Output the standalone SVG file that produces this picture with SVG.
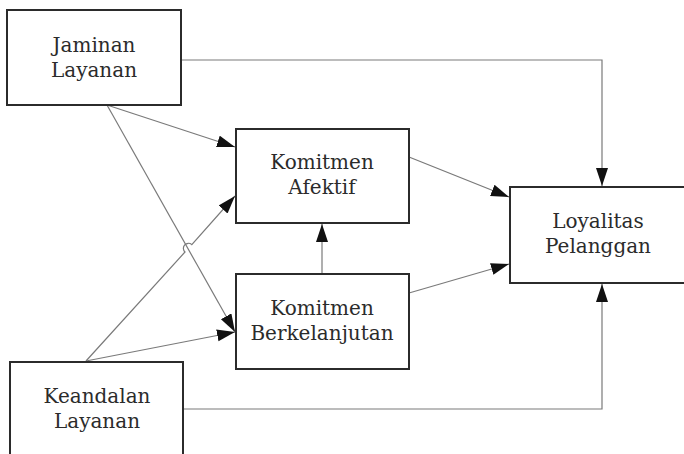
<svg xmlns="http://www.w3.org/2000/svg" width="684" height="454" viewBox="0 0 684 454">
  <style>
    .box { fill: #ffffff; stroke: #2b2b2b; stroke-width: 2; }
    .lbl { font-family: "DejaVu Serif", "Liberation Serif", serif; font-size: 20px; fill: #2b2b2b; text-anchor: middle; }
    .edge { fill: none; stroke: #7a7a7a; stroke-width: 1.2; }
  </style>
  <defs>
    <marker id="arrow" markerUnits="userSpaceOnUse" markerWidth="19" markerHeight="13" refX="18" refY="6" orient="auto">
      <path d="M0,0 L18,6 L0,12 z" fill="#111111"/>
    </marker>
  </defs>
  <rect width="684" height="454" fill="#ffffff"/>

  <g id="connectors">
    <!-- Jaminan Layanan -> Loyalitas Pelanggan (over the top) -->
    <path class="edge" d="M181,60 H602 V186" marker-end="url(#arrow)"/>
    <!-- Keandalan Layanan -> Loyalitas Pelanggan (along the bottom) -->
    <path class="edge" d="M183,409 H602 V284" marker-end="url(#arrow)"/>
    <!-- Jaminan Layanan -> Komitmen Afektif -->
    <path class="edge" d="M107,105 L235,147" marker-end="url(#arrow)"/>
    <!-- Jaminan Layanan -> Komitmen Berkelanjutan -->
    <path class="edge" d="M107,105 L235,332" marker-end="url(#arrow)"/>
    <!-- Keandalan Layanan -> Komitmen Afektif, hopping over the crossing line -->
    <path class="edge" d="M86,361 L185,252 A5,5 0 0 1 191.8,244.6 L235,196" marker-end="url(#arrow)"/>
    <!-- Keandalan Layanan -> Komitmen Berkelanjutan -->
    <path class="edge" d="M86,361 L235,332" marker-end="url(#arrow)"/>
    <!-- Komitmen Berkelanjutan -> Komitmen Afektif -->
    <path class="edge" d="M322,274 V224" marker-end="url(#arrow)"/>
    <!-- Komitmen Afektif -> Loyalitas Pelanggan -->
    <path class="edge" d="M409,157 L509,197" marker-end="url(#arrow)"/>
    <!-- Komitmen Berkelanjutan -> Loyalitas Pelanggan -->
    <path class="edge" d="M409,293 L509,264" marker-end="url(#arrow)"/>
  </g>

  <g id="jaminan-layanan">
    <rect class="box" x="7" y="10" width="174" height="95"/>
    <text class="lbl" x="94" y="52">Jaminan</text>
    <text class="lbl" x="94" y="77">Layanan</text>
  </g>

  <g id="komitmen-afektif">
    <rect class="box" x="236" y="129" width="173" height="94"/>
    <text class="lbl" x="322" y="169">Komitmen</text>
    <text class="lbl" x="322" y="194">Afektif</text>
  </g>

  <g id="komitmen-berkelanjutan">
    <rect class="box" x="236" y="274" width="173" height="95"/>
    <text class="lbl" x="322" y="315">Komitmen</text>
    <text class="lbl" x="322" y="340">Berkelanjutan</text>
  </g>

  <g id="loyalitas-pelanggan">
    <rect class="box" x="510" y="187" width="190" height="96"/>
    <text class="lbl" x="598" y="228">Loyalitas</text>
    <text class="lbl" x="598" y="253">Pelanggan</text>
  </g>

  <g id="keandalan-layanan">
    <rect class="box" x="10" y="362" width="173" height="110"/>
    <text class="lbl" x="97" y="403">Keandalan</text>
    <text class="lbl" x="97" y="428">Layanan</text>
  </g>
</svg>
